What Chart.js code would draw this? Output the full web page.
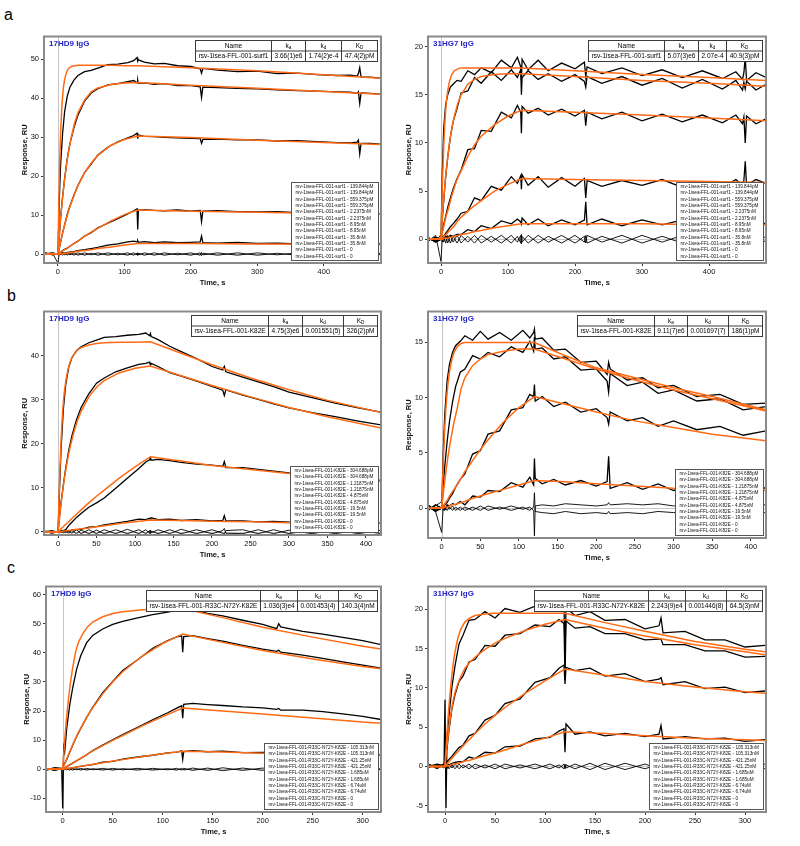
<!DOCTYPE html>
<html>
<head>
<meta charset="utf-8">
<script src="https://cdn.jsdelivr.net/npm/chart.js@4.4.1/dist/chart.umd.min.js"></script>
<style>
  body { margin: 0; width: 800px; height: 846px; background: #fff; position: relative; overflow: hidden;
         font-family: "Liberation Sans", Arial, sans-serif; }
  canvas { position: absolute; }
  .letter { position: absolute; font-size: 16px; line-height: 16px; color: #000; }
  #problems { position: absolute; left: 300px; top: 0; color: red; font-size: 12px; }
</style>
</head>
<body>
<div class="letter" style="left:4px;top:7px">a</div>
<div class="letter" style="left:7px;top:288px">b</div>
<div class="letter" style="left:7px;top:560px">c</div>
<div id="problems"></div>

<script>
// ---- shared time grids (s) ----
const timeA = [-20,-8,0,2,4,7,10,14,18,24,
  30,40,50,60,75,90,105,114,119,120,
  121,130,145,160,180,200,214,216,218,240,
  270,300,330,360,390,420,440,450,452,454,
  456,470,485];
const fitTimeA = [-20,0,2,4,6,8,10,13,16,20, 25,30,40,50,60,80,100,120,200,300, 400,485];

const timeB = [-18,-8,0,2,4,7,10,14,18,24,
  30,40,50,60,75,90,105,114,119,120,
  121,130,145,160,180,200,214,216,218,240,
  260,280,300,330,360,390,420];
const fitTimeB = [-18,0,2,4,6,8,10,13,16,20, 25,30,40,50,60,80,100,120,160,200, 250,300,350,420];

const timeC = [-17,-8,-1,0,1,2,4,7,10,14,
  18,24,30,40,50,60,75,90,105,114,
  119,120,121,130,145,160,180,200,214,216,
  218,240,260,280,300,320];
const fitTimeC = [-17,0,2,4,6,8,10,13,16,20, 25,30,40,50,60,80,100,120,160,200, 250,300,320];

// ---- tick labels ----
const xTicksA = [0,100,200,300,400];
const xTicksB = [0,50,100,150,200,250,300,350,400];
const xTicksC = [0,50,100,150,200,250,300];
const yTicksAL = [0,10,20,30,40,50];
const yTicksAR = [0,5,10,15,20];
const yTicksBL = [0,10,20,30,40];
const yTicksBR = [0,5,10,15];
const yTicksCL = [-10,0,10,20,30,40,50,60];
const yTicksCR = [-5,0,5,10,15,20];

// ---- names, concentrations, kinetics ----
const sampleA = 'rsv-1isea-FFL-001-surf1';
const sampleB = 'rsv-1isea-FFL-001-K82E';
const sampleC = 'rsv-1isea-FFL-001-R33C-N72Y-K82E';
const concA = ['139.844pM','559.375pM','2.2375nM','8.95nM','35.8nM','0'];
const concB = ['304.688pM','1.21875nM','4.875nM','19.5nM','0'];
const concC = ['105.313nM','421.25nM','1.685uM','6.74uM','0'];
const kinAL = ['3.66(1)e6','1.74(2)e-4','47.4(2)pM'];
const kinAR = ['5.07(3)e6','2.07e-4','40.9(3)pM'];
const kinBL = ['4.75(3)e6','0.001551(5)','326(2)pM'];
const kinBR = ['9.11(7)e6','0.001697(7)','186(1)pM'];
const kinCL = ['1.036(3)e4','0.001453(4)','140.3(4)nM'];
const kinCR = ['2.243(9)e4','0.001446(8)','64.5(3)nM'];

// ===== a, 17HD9 IgG (RU) =====
const aL_raw5 = [0.3,-0.2,0,14,23,31,36.5,40.5,42.8,44.6,
  45.8,46.8,47.1,47.7,48.6,48.7,49.1,49.6,50.4,49.5,
  49.8,49.2,48.8,48.9,48.3,48.1,47.5,46.4,47.6,47.2,
  46.8,46.9,46.3,46.4,46,45.8,45.9,45.6,46.3,47.8,
  45.4,45.4,45.1];
const aL_raw4 = [0.1,-0.1,0,4.6,9.2,14.8,19.3,24.5,28.3,32.4,
  35.6,39.2,41.3,42.4,43.4,43.7,44.2,44.5,43.9,44.6,
  43.8,43.9,43.5,43.7,43.2,43.2,42.9,40.2,42.8,42.7,
  42.5,42.4,42.1,41.9,41.8,41.6,41.5,41.2,41.6,38.6,
  41.3,41.2,41];
const aL_raw3 = [0,0.2,0,1.5,3,5.5,7.4,10.2,12.3,15.1,
  17.6,20.9,23.1,25.4,27.4,28.8,29.8,30.4,31,29.6,
  30.5,30.2,30.1,29.9,29.8,29.7,29.6,28.4,29.4,29.5,
  29.3,29.3,29,29.1,28.8,28.6,28.5,28.7,29.2,25.7,
  28.4,28.4,28.2];
const aL_raw2 = [0.2,-0.1,0,0.3,0.4,0.9,1.2,1.5,2,2.7,
  3.3,4.6,5.5,6.7,7.9,9.1,10.3,11.1,11.6,6.3,
  11.2,11.4,11.2,11.1,11.3,11,11.2,8.3,11,11.1,
  10.9,10.8,10.9,10.6,10.7,10.5,10.6,10.3,10.5,10.8,
  10.3,10.4,10.2];
const aL_raw1 = [0.1,0.2,0,0.1,0.2,0.3,0.2,0.4,0.5,0.6,
  0.9,1.1,1.4,1.7,2.3,2.6,3.1,3.3,3.1,3.4,
  3,3.2,2.9,3.1,2.9,3,3.1,4.6,2.9,2.8,
  3,2.7,2.8,2.6,2.8,2.6,2.7,2.5,3.3,2.6,
  2.7,2.5,2.6];
const aL_zero1 = [-0.1,0.1,-2.3,0.2,-0.1,0.3,-0.2,0.3,-0.2,0.3,
  -0.3,0.3,-0.2,0.3,-0.3,0.2,-0.3,0.3,-0.2,0.3,
  -0.2,0.3,-0.3,0.3,-0.2,0.3,-0.3,0.4,-0.2,0.3,
  -0.3,0.3,-0.2,0.3,-0.3,0.2,-0.3,0.2,-0.2,0.3,
  -0.2,0.3,-0.2];
const aL_zero2 = [0.1,-0.1,0.2,-0.2,0.1,-0.3,0.2,-0.3,0.2,-0.3,
  0.3,-0.3,0.2,-0.3,0.3,-0.2,0.3,-0.3,0.2,-0.3,
  0.2,-0.3,0.3,-0.3,0.2,-0.3,0.3,-0.4,0.2,-0.3,
  0.3,-0.3,0.2,-0.3,0.3,-0.2,0.3,-0.2,0.2,-0.3,
  0.2,-0.3,0.2];
const aL_fit5 = [0,0,19.6,31.3,38.2,42.5,44.8,46.7,47.6,48.1, 48.3,48.4,48.4,48.4,48.4,48.4,48.3,48.3,47.8,47, 46,45.1];
const aL_fit4 = [0,0,4.7,9,12.8,16.1,19.1,23,26.4,29.9, 33.6,36.2,39.5,41.6,42.6,43.5,43.9,44,43.3,42.5, 41.7,41];
const aL_fit3 = [0,0,1.7,3.2,4.7,6.1,7.5,9.3,11.1,13.1, 15.4,17.5,20.8,23.3,25.3,27.9,29.4,30.3,29.9,29.2, 28.6,28.1];
const aL_fit2 = [0,0,0.2,0.5,0.7,0.9,1.1,1.4,1.8,2.2, 2.8,3.3,4.5,5.6,6.6,8.5,10.1,11.3,11,10.7, 10.4,10.2];
const aL_fit1 = [0,0,0,0.1,0.1,0.1,0.2,0.2,0.3,0.4, 0.5,0.7,0.9,1.1,1.4,1.8,2.3,2.7,2.7,2.6, 2.5,2.4];

// ===== a, 31HG7 IgG =====
const aR_raw5 = [0.2,-0.3,0,7,11.5,14,15,15.8,16.1,16.5,
  16.4,17.5,17.1,17.8,17.3,18.6,17.8,18.9,17.9,16.5,
  18.7,17.6,18.6,17.5,18.3,17.7,18.4,16.9,17.9,17.2,
  17.8,17,17.6,16.8,17.5,16.7,17.4,16.6,17.3,18.9,
  16.5,17.3,16.8];
const aR_raw4 = [-0.1,0.2,0,2.2,4,6.5,8.5,10.6,12.2,13.6,
  15.2,15.4,16.8,16.2,17.4,16.5,17.6,16.8,17.6,15,
  16.8,17.5,16.6,17.2,16.4,17.1,16.4,15.8,16.9,16.2,
  16.9,16,16.7,15.7,16.6,15.6,16.5,15.5,16.3,15.6,
  16.4,15.5,16.1];
const aR_raw3 = [0.1,-0.2,0,0.9,1.5,2.4,3.3,4.3,5.2,6.3,
  7.2,9.3,9.4,11.3,11.2,13.2,12.6,13.9,13.2,11,
  13.8,13.1,13.6,12.9,13.5,12.8,13.4,11.8,13.2,12.5,
  13.2,12.3,13,12.2,12.9,12.1,12.9,12,12.7,10,
  12.8,12,12.5];
const aR_raw2 = [0.1,-0.2,0,0.3,0.3,0.6,0.9,1.3,1.6,2.1,
  2.7,2.9,4.3,4,5.5,5.1,6.5,5.8,6.6,5.2,
  6.7,5.6,6.5,5.4,6.4,5.5,6.3,4.3,6.1,5.5,
  6.1,5.6,6.2,5.4,6,5.4,6.2,5.6,6.1,8.1,
  5.6,6.2,5.8];
const aR_raw1 = [0.2,-0.3,0,0.1,0.2,0.3,0.1,0.4,0.3,0.5,
  0.5,1,0.8,1.4,1.1,1.9,1.6,2.1,1.8,1.6,
  2.2,1.5,2.1,1.4,2,1.5,2,3.9,1.5,2.1,
  1.4,2,1.5,2,1.4,1.9,1.4,2.6,1.5,2,
  1.4,1.9,1.6];
const aR_zero1 = [-0.3,0.4,-2.3,0.3,-0.3,0.4,-0.4,0.4,-0.3,0.4,
  -0.4,0.3,-0.4,0.4,-0.3,0.4,-0.4,0.3,-0.4,0.5,
  -0.3,0.4,-0.4,0.3,-0.4,0.4,-0.3,0.4,-0.4,0.3,
  -0.4,0.4,-0.3,0.4,-0.4,0.3,-0.4,0.4,-0.3,0.4,
  -0.4,0.3,-0.3];
const aR_zero2 = [0.2,-0.3,0.5,-0.3,0.3,-0.4,0.4,-0.4,0.3,-0.4,
  0.4,-0.3,0.4,-0.4,0.3,-0.4,0.4,-0.3,0.4,-0.5,
  0.3,-0.4,0.4,-0.3,0.4,-0.4,0.3,-0.4,0.4,-0.3,
  0.4,-0.4,0.3,-0.4,0.4,-0.3,0.4,-0.4,0.3,-0.4,
  0.4,-0.3,0.3];
const aR_fit5 = [0,0,5.6,9.6,12.4,14.3,15.4,16.5,17.1,17.5, 17.7,17.8,17.8,17.8,17.8,17.8,17.8,17.8,17.5,17.1, 16.8,16.5];
const aR_fit4 = [0,0,2.2,4.1,5.8,7.3,8.5,10.2,11.5,12.8, 14.1,15,16.1,16.6,16.9,17.1,17.2,17.2,16.9,16.5, 16.2,15.9];
const aR_fit3 = [0,0,0.65,1.3,1.9,2.5,2.9,3.7,4.5,5.4, 6.4,7.1,8.6,9.8,10.7,11.9,12.8,13.4,13.2,12.9, 12.6,12.3];
const aR_fit2 = [0,0,0.1,0.3,0.4,0.5,0.7,0.9,1.1,1.4, 1.9,2.3,2.9,3.5,4,5,5.7,6.3,6.2,6.1, 6,5.9];
const aR_fit1 = [0,0,0,0.1,0.1,0.1,0.1,0.2,0.2,0.3, 0.4,0.5,0.6,0.8,0.9,1.2,1.4,1.6,1.6,1.6, 1.5,1.5];

// ===== b, 17HD9 IgG =====
const bL_raw4 = [0.1,-0.2,0,10,19,28,33.5,37.5,39.6,41.2,
  42.1,43,43.6,44.2,44.4,44.7,44.9,45.2,44.6,45.1,
  44.4,43.7,42.2,41,39.4,37.6,36.8,37.6,36.4,35.2,
  34.1,33,31.8,30.5,29.3,28.2,27.2];
const bL_raw3 = [-0.1,0.1,0,3.5,6.8,10.8,14.5,18.6,21.8,25.5,
  28.3,31.4,33.8,35,36.4,37.3,38.1,38.3,38.6,37.9,
  38.3,37.6,36.2,35.4,34.3,33.1,32.2,31,32.3,31.1,
  30.1,29.1,28.2,27.1,26.2,25.2,24.3];
const bL_raw2 = [0,-0.1,0,0.1,0.2,0.3,0.5,1.5,2.2,3.3,
  4.2,5.6,6.6,7.7,9.9,12.2,14.4,15.9,16.4,16.9,
  16.3,16.5,16.2,15.8,15.4,15.2,14.9,16,14.6,14.6,
  14.2,13.8,13.4,13,12.5,12.1,11.7];
const bL_raw1 = [0.1,0.2,0,0.1,0.2,0.1,0.3,0.2,0.4,0.5,
  0.6,1.1,1.2,1.6,2,2.4,2.9,2.8,3.1,2.9,
  3.2,2.8,2.9,2.6,2.8,2.5,2.6,3.7,2.5,2.5,
  2.3,2.4,2.2,2.3,2.1,2.2,2];
const bL_zero1 = [-0.2,0.3,-0.1,0.2,-0.1,0.2,-0.2,0.3,-0.3,0.5,
  -0.4,0.5,-0.4,0.5,-0.4,0.6,-0.4,0.5,-0.3,0.4,
  -0.2,0.5,-0.4,0.6,-0.4,0.5,-0.3,-0.5,0.3,0.5,
  -0.4,0.5,-0.4,0.5,-0.4,0.4,-0.4];
const bL_zero2 = [0.2,-0.3,0.1,-0.2,0.1,-0.2,0.2,-0.3,0.3,-0.4,
  0.4,-0.4,0.4,-0.4,0.5,-0.4,0.5,-0.4,0.3,-0.4,
  0.2,-0.4,0.5,-0.4,0.5,-0.4,0.3,0.8,-0.3,-0.4,
  0.5,-0.4,0.4,-0.4,0.5,-0.4,0.4];
const bL_fit4 = [0,0,12,21,27.5,31.5,34.2,37,38.8,40.2, 41.3,41.9,42.5,42.8,43,43.1,43.1,43.2,40.6,38, 35,32.3,29.9,27.1];
const bL_fit3 = [0,0,3.3,6.4,9.2,11.8,14,17,19.5,22.3, 25.2,27.4,30.7,32.9,34.4,36.2,37.2,37.7,35.5,33.3, 30.7,28.3,26.2,23.6];
const bL_fit2 = [0,0,0.35,0.7,1,1.4,1.7,2.2,2.7,3.4, 4.2,5,6.6,8.1,9.5,12.3,14.8,17.1,16.1,15.1, 14.2,13.3,12.5,11.5];
const bL_fit1 = [0,0,0,0.1,0.1,0.2,0.2,0.3,0.4,0.5, 0.6,0.7,0.9,1.2,1.4,1.9,2.3,2.7,2.6,2.4, 2.3,2.1,2,1.9];

// ===== b, 31HG7 IgG =====
const bR_raw4 = [0.2,-0.3,0,5,8.5,11.5,13,14.1,14.7,15.1,
  15.6,15.2,16,15.3,15.9,15.2,16.1,15.4,15.9,16.2,
  15.3,15.4,14.3,14.4,13.2,13.3,12.1,13.2,12.6,11.6,
  11.8,10.9,11.1,10.1,10.3,9.4,9.5];
const bR_raw3 = [-0.2,0.3,0,2,3.8,6,7.8,9.6,11,12.3,
  12.6,13.8,13.5,14.1,13.7,14.6,14.1,15.1,14.2,15.5,
  14.4,14.5,13.5,13.7,12.5,12.6,11.5,10.5,12.2,11.1,
  11.4,10.4,10.7,9.7,9.9,8.9,9.2];
const bR_raw2 = [0.1,-0.2,0,0.1,0.3,0.5,0.9,1.3,1.9,2.6,
  3.1,4.9,5.2,6.7,7,8.9,9.1,10.3,10.1,11.2,
  9.7,10.1,9.2,9.6,8.7,9,8.2,7.6,8.7,7.9,
  8.2,7.4,7.9,7.1,7.4,6.6,7];
const bR_raw1 = [0.3,-0.2,0,0.2,-0.1,0.3,0.2,0.4,0.3,0.6,
  0.3,1.1,1,1.6,1.5,2.3,1.9,2.8,2.1,4.5,
  2.7,2.2,2.6,2.1,2.5,2,2.4,4.7,1.8,2.3,
  1.7,2.2,1.6,2.1,1.6,2.1,1.8];
const bR_zero1 = [0.2,-0.3,-2.2,0.1,-0.2,0.2,-0.1,0.2,-0.2,0.1,
  -0.2,0.1,-0.2,0.2,-0.1,0.2,-0.1,0.1,-0.2,-2.5,
  0.2,0.3,0.2,0.4,0.3,0.2,0.3,0.5,0.3,0.4,
  0.3,0.4,0.2,0.3,0.4,0.2,0.3];
const bR_zero2 = [-0.1,0.2,0.6,-0.2,0.1,-0.2,0.1,-0.2,0.1,-0.2,
  0.1,-0.2,0.2,-0.2,0.1,-0.2,0.1,-0.2,0.1,1.4,
  -0.3,-0.4,-0.5,-0.3,-0.5,-0.4,-0.5,-0.3,-0.5,-0.4,
  -0.5,-0.3,-0.4,-0.5,-0.4,-0.5,-0.4];
const bR_fit4 = [0,0,4.2,7.3,9.6,11.2,12.3,13.4,14.1,14.6, 14.9,15,15,15,15,15,15,15,13.8,12.7, 11.8,10.9,10.1,8.9];
const bR_fit3 = [0,0,1.3,2.5,3.6,4.6,5.5,6.7,7.8,9, 10.8,11.8,12.9,13.5,13.9,14.2,14.4,14.4,13.5,12.6, 11.6,10.7,9.9,8.8];
const bR_fit2 = [0,0,0.2,0.4,0.6,0.8,1.1,1.4,1.7,2.1, 2.7,3.3,4.3,5.3,6.2,7.8,9.1,10.1,9.4,8.7, 7.9,7.3,6.7,6.1];
const bR_fit1 = [0,0,0,0.1,0.1,0.1,0.2,0.3,0.3,0.4, 0.5,0.6,0.9,1.1,1.3,1.7,2.1,2.5,2.4,2.2, 2,1.8,1.7,1.6];

// ===== c, 17HD9 IgG =====
const cL_raw4 = [-0.3,0.5,0.3,-13.5,7.5,6,14,22,28,34.5,
  39,43.5,46,48.2,49.8,50.8,52,53.1,54,54.6,
  55.2,54.5,55,54.8,53.6,52.7,51.2,49.8,48.3,50,
  48.9,47.4,46.4,45.3,44.2,42.7];
const cL_raw3 = [0.2,-0.3,0.1,0,1.5,2,3.3,5.8,8.2,11.3,
  14,17.8,21.3,26.3,30.2,33.9,37.6,41.6,44.2,45.5,
  45.8,40.2,45.6,45.9,44.9,44,42.6,41.3,40.5,40.9,
  40.2,39.2,38.1,36.9,35.8,34.6];
const cL_raw2 = [0.1,-0.2,0.1,0,0.3,0.4,0.9,1.5,2.1,2.9,
  3.7,5,6.4,8.3,10.1,11.9,14.4,17,19.4,21,
  21.8,17.5,22.3,22.6,22.2,21.9,21.4,21.1,20.6,20.9,
  20.3,20.3,19.8,19,18.2,17];
const cL_raw1 = [0.1,-0.1,0.2,0,0.1,0.2,0.3,0.3,0.5,0.8,
  1,1.3,1.6,2.4,2.7,3.5,4.2,4.8,5.6,5.9,
  6.3,3.4,6.1,6.4,6,6.2,5.7,5.8,5.6,5.9,
  5.5,5.4,5.2,5.3,5,4.9];
const cL_zero1 = [-0.4,0.3,-0.2,0.2,-0.3,0.2,-0.2,0.3,-0.3,0.2,
  -0.3,0.3,-0.2,0.3,-0.3,0.2,-0.3,0.3,-0.2,0.3,
  -0.3,0.2,-0.3,0.4,-0.4,0.5,-0.4,0.4,-0.3,0.3,
  -0.3,0.4,-0.3,0.3,-0.3,0.2];
const cL_zero2 = [0.3,-0.3,0.2,-0.2,0.3,-0.2,0.2,-0.3,0.3,-0.2,
  0.3,-0.3,0.2,-0.3,0.3,-0.2,0.3,-0.3,0.2,-0.3,
  0.3,-0.2,0.3,-0.4,0.4,-0.5,0.4,-0.4,0.3,-0.3,
  0.3,-0.4,0.3,-0.3,0.3,-0.2];
const cL_fit4 = [0,0,10,18.2,24.9,30.4,34.9,40.5,43.8,46.5, 49,50.6,52.4,53.5,54.1,54.8,55.1,55.2,52.1,48.8, 45.4,42.3,41.2];
const cL_fit3 = [0,0,1.8,3.5,5.2,6.8,8.4,10.7,12.8,15.4, 18.4,21.1,25.9,30,33.5,39,43.2,46.5,43.6,40.8, 37.9,35.3,34.5];
const cL_fit2 = [0,0,0.45,0.9,1.3,1.7,2.1,2.8,3.4,4.2, 5.3,6.3,8.1,9.9,11.6,15,18.1,21,20,19, 17.6,16.2,15.8];
const cL_fit1 = [0,0,0.1,0.2,0.3,0.4,0.5,0.7,0.9,1.1, 1.4,1.7,2.2,2.8,3.3,4.4,5.3,6.2,5.9,5.5, 5.2,4.8,4.7];

// ===== c, 31HG7 IgG =====
const cR_raw4 = [-0.2,0.3,0.1,8.5,-5.3,3.5,6.5,10.2,12.8,15.6,
  16.7,18.6,18.7,19.7,18.9,20.1,19.6,20.4,19.9,20.2,
  20.5,14,20.2,19.2,19.7,18.6,18.7,17.5,17.9,18.9,
  17,17.2,16.1,16.1,15.2,15.4];
const cR_raw3 = [0.3,-0.2,0.2,0,2.5,2.3,4.6,7.4,9.1,10.8,
  11.5,13.3,13.6,15.4,15.3,16.7,16.9,18,17.8,18.7,
  18.2,11,18.5,17.6,17.8,16.9,16.9,16.1,16.2,16.2,
  15.5,15.5,14.7,14.7,13.9,14];
const cR_raw2 = [0.1,0.2,-0.1,0,0.4,0.6,0.9,1.3,1.8,2.4,
  2.7,3.9,4.2,5.9,6.5,8,8.6,10.7,11.3,12.5,
  12.9,10.5,12.6,12.2,12.5,11.5,11.8,10.8,11.1,11.3,
  10.4,10.8,9.9,10.1,9.4,9.6];
const cR_raw1 = [0.2,-0.1,0.3,0,0.2,0.3,0.2,0.4,0.5,0.6,
  0.6,1.2,1,1.8,1.7,2.5,2.6,3.5,3.7,4.5,
  4.8,1.8,5.4,4.1,4.4,3.9,4.2,3.8,4.1,5.2,
  3.5,3.8,3.5,3.6,3.2,3.4];
const cR_zero1 = [0.3,-0.3,0.2,-0.2,0.3,-0.3,0.3,-0.2,0.3,-0.3,
  0.2,-0.3,0.3,-0.2,0.3,-0.3,0.2,-0.3,0.3,-0.2,
  0.3,-0.3,0.2,-0.3,0.4,-0.4,0.4,-0.3,0.3,-0.3,
  0.4,-0.4,0.3,-0.3,0.2,-0.3];
const cR_zero2 = [-0.2,0.3,-0.2,0.2,-0.3,0.3,-0.3,0.2,-0.3,0.3,
  -0.2,0.3,-0.3,0.2,-0.3,0.3,-0.2,0.3,-0.3,0.2,
  -0.3,0.3,-0.2,0.3,-0.4,0.4,-0.4,0.3,-0.3,0.3,
  -0.4,0.4,-0.3,0.3,-0.2,0.3];
const cR_fit4 = [0,0,4.3,7.8,10.5,12.9,14.6,16.4,17.5,18.4, 18.9,19.2,19.4,19.5,19.5,19.5,19.5,19.5,18.3,17.2, 15.9,14.9,14.6];
const cR_fit3 = [0,0,2.6,4.9,6.8,8.3,9.4,10.6,11.5,12.5, 13.3,13.9,14.9,15.7,16.3,17.3,18.1,18.7,17.6,16.6, 15.5,14.6,14.2];
const cR_fit2 = [0,0,0.3,0.6,0.9,1.2,1.5,1.9,2.3,2.9, 3.5,4.2,5.4,6.5,7.5,9.3,10.9,12.4,11.6,10.8, 10.1,9.5,9.3];
const cR_fit1 = [0,0,0.1,0.1,0.2,0.3,0.3,0.4,0.5,0.7, 0.8,1,1.4,1.7,2.1,2.9,3.6,4.4,4.2,3.9, 3.6,3.4,3.3];

// ---- drawing ----
const FONT = '"Liberation Sans", Arial, sans-serif';
const ORANGE = '#ff6a13';
Chart.defaults.font.family = FONT;
const problems = [];

function pts(t, v, tag) {
  if (t.length !== v.length) problems.push(tag + ': ' + t.length + ' vs ' + v.length);
  return t.map((x, i) => ({ x: x, y: v[i] }));
}

// panel layout: plot box in page pixels [left, top, right, bottom]
const panels = [
  { id: 'aL', box: [44, 34, 381, 263], x: [-21, 486], y: [-2.3, 55.8], xTicks: xTicksA, yTicks: yTicksAL,
    title: '17HD9 IgG', sample: sampleA, conc: concA, kin: kinAL, rawT: timeA, fitT: fitTimeA,
    raws: [aL_zero1, aL_zero2, aL_raw1, aL_raw2, aL_raw3, aL_raw4, aL_raw5],
    fits: [aL_fit1, aL_fit2, aL_fit3, aL_fit4, aL_fit5] },
  { id: 'aR', box: [428, 34, 766, 263], x: [-19.4, 485], y: [-2.47, 21.06], xTicks: xTicksA, yTicks: yTicksAR,
    title: '31HG7 IgG', sample: sampleA, conc: concA, kin: kinAR, rawT: timeA, fitT: fitTimeA,
    raws: [aR_zero1, aR_zero2, aR_raw1, aR_raw2, aR_raw3, aR_raw4, aR_raw5],
    fits: [aR_fit1, aR_fit2, aR_fit3, aR_fit4, aR_fit5] },
  { id: 'bL', box: [44, 309, 381, 535], x: [-18.2, 419.5], y: [-0.7, 50.1], xTicks: xTicksB, yTicks: yTicksBL,
    title: '17HD9 IgG', sample: sampleB, conc: concB, kin: kinBL, rawT: timeB, fitT: fitTimeB,
    raws: [bL_zero1, bL_zero2, bL_raw1, bL_raw2, bL_raw3, bL_raw4],
    fits: [bL_fit1, bL_fit2, bL_fit3, bL_fit4] },
  { id: 'bR', box: [428, 309, 766, 538], x: [-17.7, 419.6], y: [-2.7, 17.8], xTicks: xTicksB, yTicks: yTicksBR,
    title: '31HG7 IgG', sample: sampleB, conc: concB, kin: kinBR, rawT: timeB, fitT: fitTimeB,
    raws: [bR_zero1, bR_zero2, bR_raw1, bR_raw2, bR_raw3, bR_raw4],
    fits: [bR_fit1, bR_fit2, bR_fit3, bR_fit4] },
  { id: 'cL', box: [46, 584, 381, 812], x: [-16.7, 318.3], y: [-14.7, 62.8], xTicks: xTicksC, yTicks: yTicksCL,
    title: '17HD9 IgG', sample: sampleC, conc: concC, kin: kinCL, rawT: timeC, fitT: fitTimeC,
    raws: [cL_zero1, cL_zero2, cL_raw1, cL_raw2, cL_raw3, cL_raw4],
    fits: [cL_fit1, cL_fit2, cL_fit3, cL_fit4] },
  { id: 'cR', box: [428, 584, 766, 812], x: [-17, 321], y: [-5.8, 22.9], xTicks: xTicksC, yTicks: yTicksCR,
    title: '31HG7 IgG', sample: sampleC, conc: concC, kin: kinCR, rawT: timeC, fitT: fitTimeC,
    raws: [cR_zero1, cR_zero2, cR_raw1, cR_raw2, cR_raw3, cR_raw4],
    fits: [cR_fit1, cR_fit2, cR_fit3, cR_fit4] }
];

function drawTable(ctx, a, p) {
  ctx.save();
  const big = '6.5px ' + FONT, small = '4.6px ' + FONT;
  const cells = [p.sample].concat(p.kin);
  const heads = [['Name', ''], ['k', 'a'], ['k', 'd'], ['K', 'D']];
  ctx.font = big;
  const widths = cells.map(c => Math.round(ctx.measureText(c).width + 6));
  const total = widths.reduce((s, w) => s + w, 0);
  const rowH = 10.5;
  const x0 = Math.round(a.right - 4 - total) + 0.5, y0 = Math.round(a.top + 3) + 0.5;
  ctx.fillStyle = '#fff';
  ctx.fillRect(x0, y0, total, rowH * 2);
  ctx.strokeStyle = '#3a3a3a'; ctx.lineWidth = 1;
  ctx.strokeRect(x0, y0, total, rowH * 2);
  ctx.beginPath();
  ctx.moveTo(x0, y0 + rowH); ctx.lineTo(x0 + total, y0 + rowH);
  let cx = x0;
  widths.forEach((w, i) => {
    if (i) { ctx.moveTo(cx, y0); ctx.lineTo(cx, y0 + rowH * 2); }
    cx += w;
  });
  ctx.stroke();
  ctx.fillStyle = '#000'; ctx.textBaseline = 'middle';
  cx = x0;
  widths.forEach((w, i) => {
    const mid = cx + w / 2;
    const main = heads[i][0], sub = heads[i][1];
    ctx.font = big; const mw = ctx.measureText(main).width;
    ctx.font = small; const sw = sub ? ctx.measureText(sub).width : 0;
    const sx = mid - (mw + sw) / 2;
    ctx.textAlign = 'left';
    ctx.font = big; ctx.fillText(main, sx, y0 + rowH / 2);
    if (sub) { ctx.font = small; ctx.fillText(sub, sx + mw, y0 + rowH / 2 + 2); }
    ctx.font = big; ctx.textAlign = 'center';
    ctx.fillText(cells[i], mid, y0 + rowH * 1.5);
    cx += w;
  });
  ctx.restore();
}

function drawLegendBox(ctx, a, p) {
  ctx.save();
  ctx.font = '4.7px ' + FONT;
  const lines = [];
  p.conc.forEach(c => { lines.push(p.sample + ' - ' + c); lines.push(p.sample + ' - ' + c); });
  const tw = Math.max.apply(null, lines.map(s => ctx.measureText(s).width));
  const lh = 6.35;
  const w = Math.round(tw + 9), h = Math.round(lines.length * lh + 2);
  const x0 = Math.round(a.right - 3 - w) + 0.5, y0 = Math.round(a.bottom - 3 - h) + 0.5;
  ctx.fillStyle = '#fff';
  ctx.fillRect(x0, y0, w, h);
  ctx.strokeStyle = '#555'; ctx.lineWidth = 1;
  ctx.strokeRect(x0, y0, w, h);
  ctx.fillStyle = '#111'; ctx.textBaseline = 'middle'; ctx.textAlign = 'left';
  lines.forEach((s, i) => ctx.fillText(s, x0 + 4, y0 + 1 + lh * (i + 0.5)));
  ctx.restore();
}

function makeDecor(p) {
  return {
    id: 'decor' + p.id,
    beforeDatasetsDraw(chart) {
      const ctx = chart.ctx, a = chart.chartArea;
      const x0 = Math.round(chart.scales.x.getPixelForValue(0)) + 0.5;
      const y0 = Math.round(chart.scales.y.getPixelForValue(0)) + 0.5;
      ctx.save();
      ctx.strokeStyle = '#c4c4c4'; ctx.lineWidth = 1;
      ctx.beginPath();
      ctx.moveTo(x0, a.top); ctx.lineTo(x0, a.bottom);
      ctx.moveTo(a.left, y0); ctx.lineTo(a.right, y0);
      ctx.stroke();
      ctx.restore();
    },
    afterDatasetsDraw(chart) {
      const ctx = chart.ctx, a = chart.chartArea;
      drawLegendBox(ctx, a, p);
      drawTable(ctx, a, p);
      ctx.save();
      ctx.font = 'bold 8px ' + FONT; ctx.fillStyle = '#2424c8';
      ctx.textAlign = 'left'; ctx.textBaseline = 'alphabetic';
      ctx.fillText(p.title, a.left + 5, a.top + 9.5);
      ctx.strokeStyle = '#8a8a8a'; ctx.lineWidth = 2;
      ctx.strokeRect(a.left, a.top, a.right - a.left, a.bottom - a.top);
      ctx.restore();
    },
    afterDraw(chart) {
      const ctx = chart.ctx, a = chart.chartArea;
      ctx.save();
      ctx.font = 'bold 7.5px ' + FONT; ctx.fillStyle = '#111';
      ctx.textAlign = 'center'; ctx.textBaseline = 'alphabetic';
      ctx.fillText('Time, s', (a.left + a.right) / 2, a.bottom + 22);
      ctx.translate(a.left - 20, (a.top + a.bottom) / 2);
      ctx.rotate(-Math.PI / 2);
      ctx.fillText('Response, RU', 0, 2.8);
      ctx.restore();
    }
  };
}

function makePanel(p) {
  const padL = 44, padT = 4, padR = 4, padB = 26;
  const l = p.box[0], t = p.box[1], r = p.box[2], b = p.box[3];
  const w = r - l + padL + padR, h = b - t + padT + padB;
  const cv = document.createElement('canvas');
  cv.width = w; cv.height = h;
  cv.style.left = (l - padL) + 'px'; cv.style.top = (t - padT) + 'px';
  cv.style.width = w + 'px'; cv.style.height = h + 'px';
  document.body.appendChild(cv);

  const datasets = [];
  p.fits.forEach((v, i) => datasets.push({
    data: pts(p.fitT, v, p.id + ' fit' + (i + 1)), borderColor: ORANGE, borderWidth: 1.5, order: 0
  }));
  p.raws.forEach((v, i) => datasets.push({
    data: pts(p.rawT, v, p.id + ' raw' + i), borderColor: '#000', borderWidth: i < 2 ? 0.9 : 1.3, order: 1
  }));

  const tickFont = { size: 7.5, family: FONT };
  new Chart(cv, {
    type: 'line',
    data: { datasets: datasets },
    options: {
      responsive: false,
      animation: false,
      events: [],
      layout: { padding: { left: 0, top: padT, right: padR, bottom: 0 } },
      elements: { point: { radius: 0 }, line: { tension: 0, fill: false } },
      plugins: { legend: { display: false }, tooltip: { enabled: false } },
      scales: {
        x: {
          type: 'linear', min: p.x[0], max: p.x[1],
          afterBuildTicks: s => { s.ticks = p.xTicks.map(v => ({ value: v })); },
          afterFit: s => { s.height = padB; },
          grid: { drawOnChartArea: false, tickLength: 3, color: '#333' },
          border: { display: false },
          ticks: { font: tickFont, color: '#111', padding: 1, maxRotation: 0, autoSkip: false }
        },
        y: {
          type: 'linear', min: p.y[0], max: p.y[1],
          afterBuildTicks: s => { s.ticks = p.yTicks.map(v => ({ value: v })); },
          afterFit: s => { s.width = padL; },
          grid: { drawOnChartArea: false, tickLength: 3, color: '#333' },
          border: { display: false },
          ticks: { font: tickFont, color: '#111', padding: 2, autoSkip: false }
        }
      }
    },
    plugins: [makeDecor(p)]
  });
}

panels.forEach(makePanel);
if (problems.length) document.getElementById('problems').textContent = problems.join(' | ');
</script>
</body>
</html>
